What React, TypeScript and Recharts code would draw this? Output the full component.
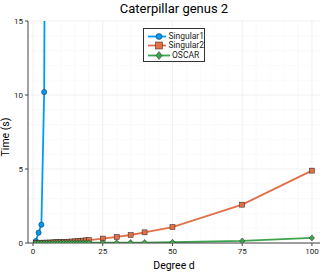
import React from 'react';
import { LineChart, Line, XAxis, YAxis, CartesianGrid } from 'recharts';

const degreesSmall = [1, 2, 3, 4, 5, 6, 7, 8, 9, 10, 11, 12, 13, 14, 15, 16, 17, 18, 19, 20];
const degreesLarge = [25, 30, 35, 40, 50, 75, 100];
const degrees = [...degreesSmall, ...degreesLarge];

const singular1Degrees = [1, 2, 3, 4, 5];
const singular1Times = [0.13, 0.7, 1.24, 10.2, 60];

const singular2Times = [
  0.01, 0.01, 0.02, 0.02, 0.03, 0.03, 0.04, 0.05, 0.05, 0.06,
  0.07, 0.08, 0.09, 0.1, 0.11, 0.13, 0.14, 0.16, 0.18, 0.2,
  0.3, 0.41, 0.54, 0.72, 1.08, 2.59, 4.89,
];
const oscarTimes = [
  0.005, 0.005, 0.005, 0.006, 0.006, 0.007, 0.007, 0.008, 0.008, 0.009,
  0.009, 0.01, 0.01, 0.011, 0.012, 0.013, 0.014, 0.015, 0.016, 0.018,
  0.02, 0.02, 0.03, 0.03, 0.05, 0.14, 0.34,
];

const xTicks = [0, 25, 50, 75, 100];
const xMinor = [5, 10, 15, 20, 30, 35, 40, 45, 55, 60, 65, 70, 80, 85, 90, 95];
const yTicks = [0, 5, 10, 15];
const yMinor = [1, 2, 3, 4, 6, 7, 8, 9, 11, 12, 13, 14];

const BLUE = '#009AFA';
const ORANGE = '#E36F47';
const GREEN = '#3EA44E';
const FONT = 'Roboto, sans-serif';

const s1Data = singular1Degrees.map((d, i) => ({ d, t: singular1Times[i] }));
const s2Data = degrees.map((d, i) => ({ d, t: singular2Times[i] }));
const oscarData = degrees.map((d, i) => ({ d, t: oscarTimes[i] }));

const CircleDot = (p: any) => (
  <circle key={p.key} cx={p.cx} cy={p.cy} r={2.6} fill={BLUE} stroke="#222" strokeWidth={0.5} />
);
const SquareDot = (p: any) => (
  <rect key={p.key} x={p.cx - 2.5} y={p.cy - 2.5} width={5} height={5} fill={ORANGE} stroke="#222" strokeWidth={0.5} />
);
const DiamondDot = (p: any) => (
  <polygon
    key={p.key}
    points={`${p.cx},${p.cy - 3} ${p.cx + 2.6},${p.cy} ${p.cx},${p.cy + 3} ${p.cx - 2.6},${p.cy}`}
    fill={GREEN}
    stroke="#222"
    strokeWidth={0.5}
  />
);

const legendItems = [
  { name: 'Singular1', color: BLUE, shape: 'circle' },
  { name: 'Singular2', color: ORANGE, shape: 'square' },
  { name: 'OSCAR', color: GREEN, shape: 'diamond' },
];

function LegendIcon({ color, shape }: { color: string; shape: string }) {
  return (
    <svg width={22} height={9} style={{ display: 'block' }}>
      <line x1={0} y1={4.5} x2={22} y2={4.5} stroke={color} strokeWidth={1.8} />
      {shape === 'circle' && <circle cx={11} cy={4.5} r={3} fill={color} stroke="#222" strokeWidth={0.5} />}
      {shape === 'square' && <rect x={7.5} y={1} width={7} height={7} fill={color} stroke="#222" strokeWidth={0.5} />}
      {shape === 'diamond' && <polygon points="11,0.5 14,4.5 11,8.5 8,4.5" fill={color} stroke="#222" strokeWidth={0.5} />}
    </svg>
  );
}

export default function App() {
  return (
    <div style={{ position: 'absolute', left: 0, top: 0, width: 327, height: 273, background: '#fff', fontFamily: FONT }}>
      <div style={{ position: 'absolute', top: 0, left: 28, width: 292, textAlign: 'center', fontSize: 13, color: '#000', lineHeight: '17px' }}>
        Caterpillar genus 2
      </div>
      <LineChart width={327} height={273} data={s2Data} margin={{ top: 21, right: 7, bottom: 0, left: 0 }}>
        <CartesianGrid verticalValues={xMinor} horizontalValues={yMinor} stroke="#f5f5f5" strokeWidth={0.5} />
        <CartesianGrid verticalValues={xTicks} horizontalValues={yTicks} stroke="#e8e8e8" strokeWidth={0.6} />
        <XAxis
          dataKey="d"
          type="number"
          domain={[-1.8, 102.9]}
          ticks={xTicks}
          allowDataOverflow
          interval={0}
          tick={{ fontSize: 8, fill: '#222', fontFamily: FONT }}
          tickSize={3}
          stroke="#444"
          height={30}
          label={{ value: 'Degree d', position: 'insideBottom', offset: 4, fontSize: 10.5, fill: '#000', fontFamily: FONT }}
        />
        <YAxis
          type="number"
          domain={[0, 15]}
          ticks={yTicks}
          allowDataOverflow
          interval={0}
          tick={{ fontSize: 8, fill: '#222', fontFamily: FONT }}
          tickSize={3}
          stroke="#444"
          width={28}
        />
        <Line data={s1Data} dataKey="t" type="linear" stroke={BLUE} strokeWidth={1.8} dot={CircleDot} isAnimationActive={false} />
        <Line data={s2Data} dataKey="t" type="linear" stroke={ORANGE} strokeWidth={1.8} dot={SquareDot} isAnimationActive={false} />
        <Line data={oscarData} dataKey="t" type="linear" stroke={GREEN} strokeWidth={1.8} dot={DiamondDot} isAnimationActive={false} />
      </LineChart>
      <div
        style={{
          position: 'absolute',
          left: 6,
          top: 137,
          transform: 'translate(-50%, -50%) rotate(-90deg)',
          whiteSpace: 'nowrap',
          fontSize: 10.5,
          lineHeight: '12px',
          color: '#000',
        }}
      >
        Time (s)
      </div>
      <div
        style={{
          position: 'absolute',
          left: 143,
          top: 28,
          width: 62,
          height: 34,
          border: '1px solid #333',
          background: '#fff',
          padding: '3px 0 0 4px',
          boxSizing: 'border-box',
          fontSize: 8.5,
          lineHeight: '9.3px',
          color: '#222',
        }}
      >
        {legendItems.map((it) => (
          <div key={it.name} style={{ display: 'flex', alignItems: 'center', gap: 2 }}>
            <LegendIcon color={it.color} shape={it.shape} />
            <span>{it.name}</span>
          </div>
        ))}
      </div>
    </div>
  );
}
